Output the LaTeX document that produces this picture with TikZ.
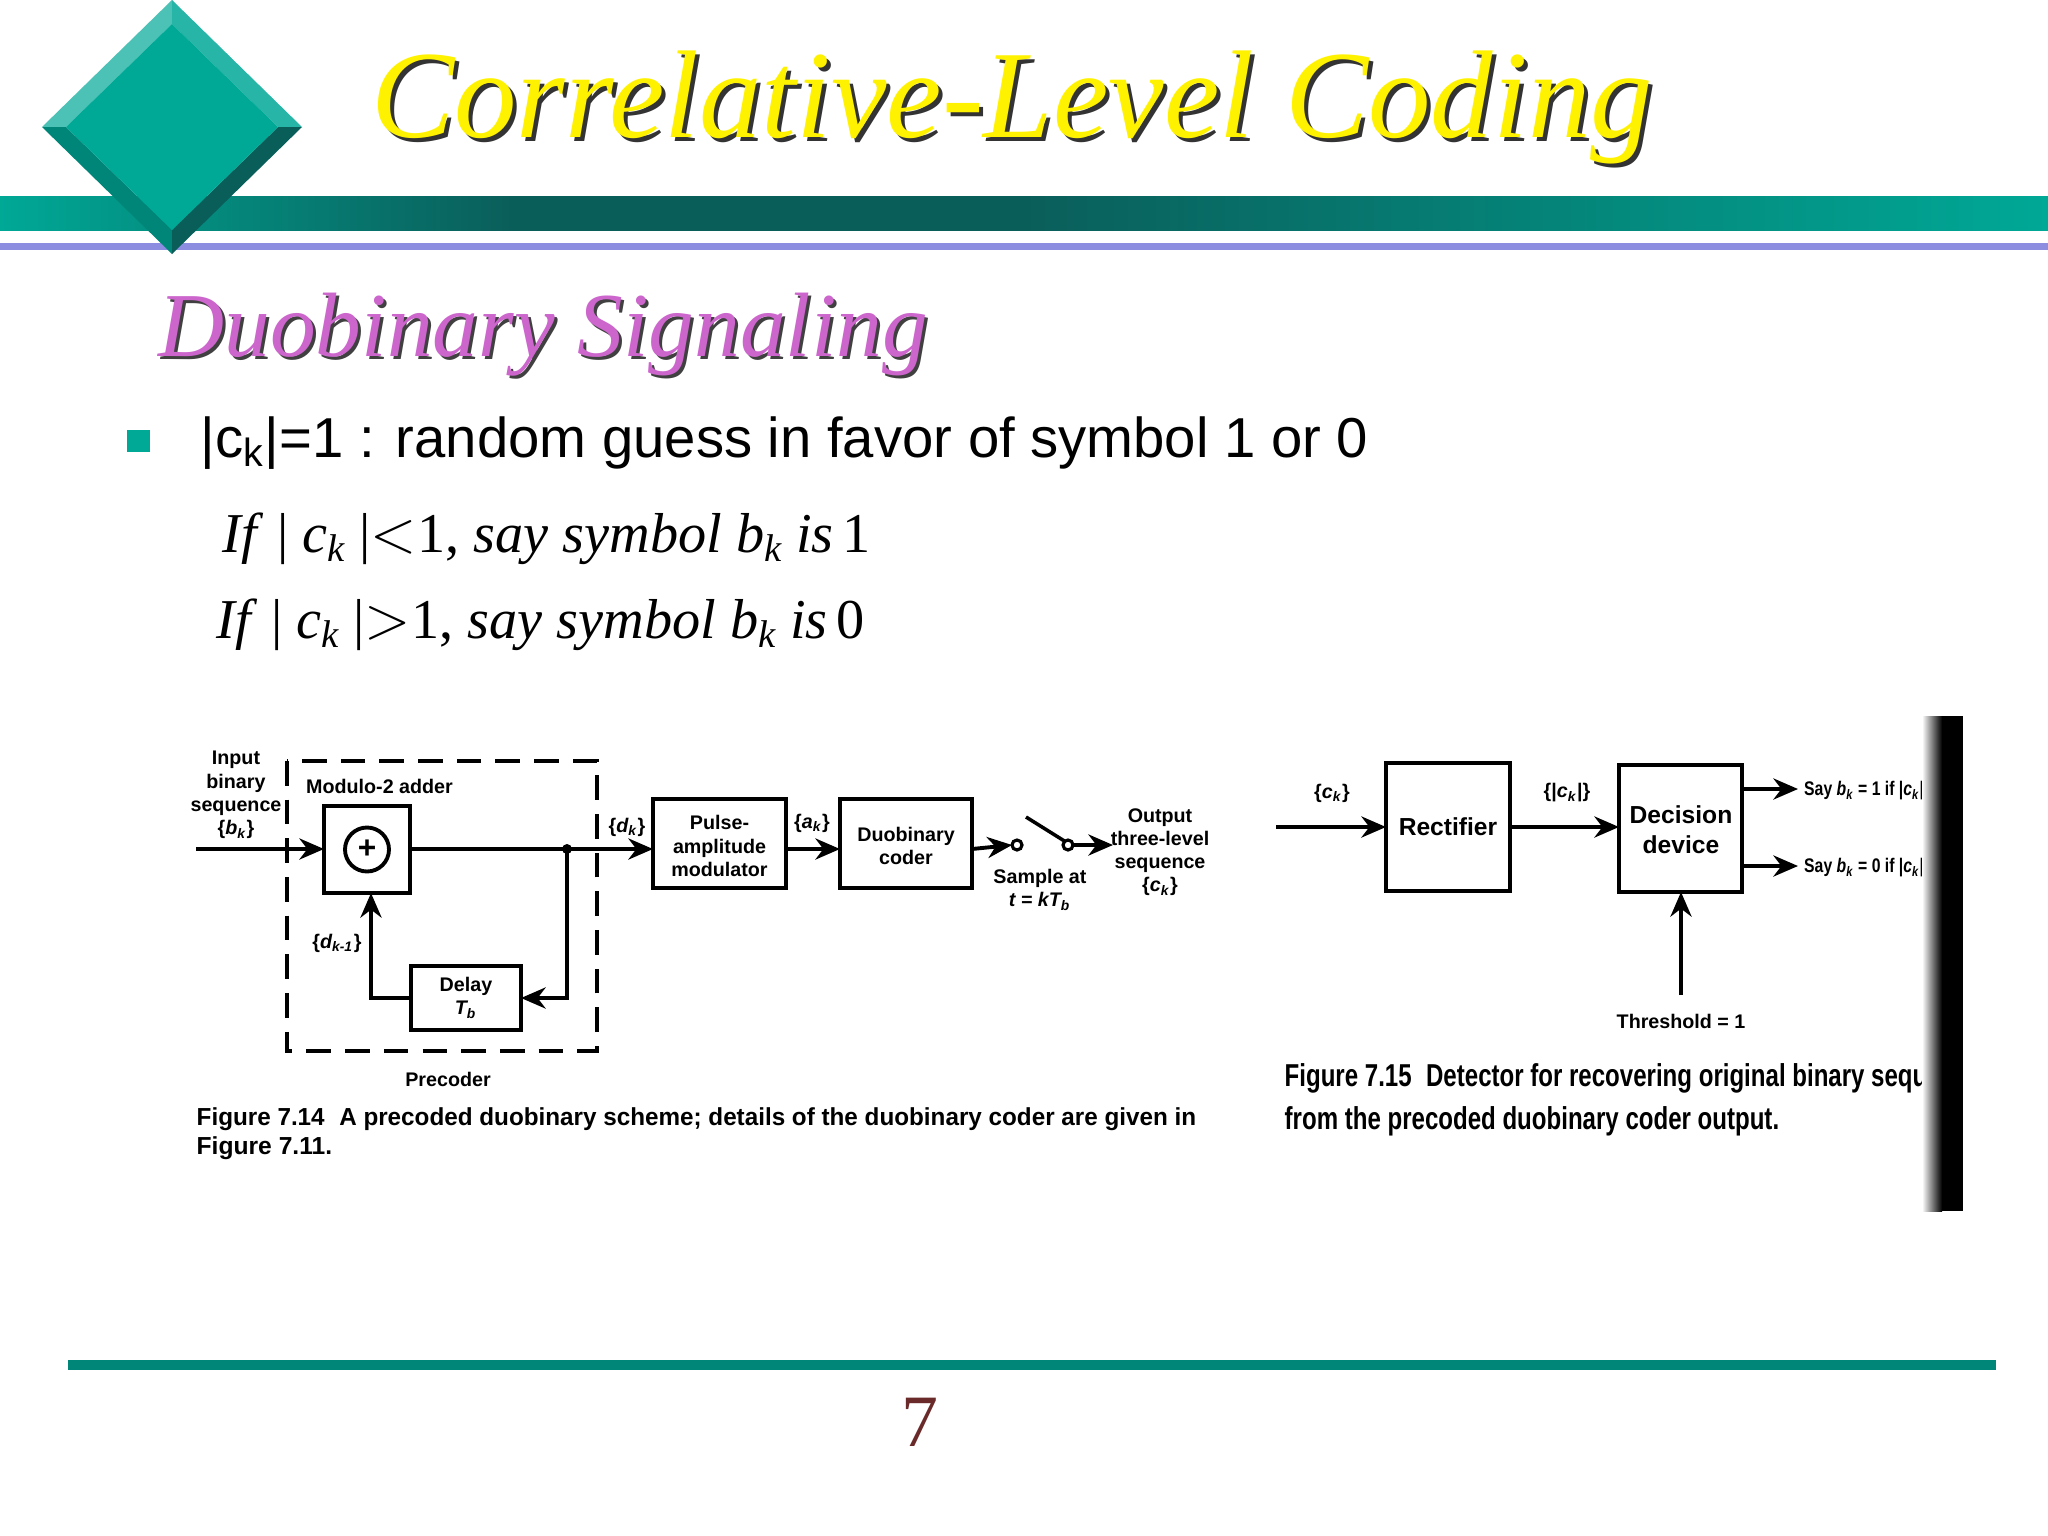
\documentclass[tikz,border=0pt]{standalone}
\usepackage{fontspec}
\setmainfont{Liberation Serif}
\newfontfamily\arial{Liberation Sans}
\usetikzlibrary{arrows.meta,shadings}
\definecolor{teal1}{HTML}{00A896}
\definecolor{tealdark}{HTML}{0A5E5A}
\definecolor{lav}{HTML}{8C8CE0}
\definecolor{pnum}{HTML}{6B2A2A}
\definecolor{violet1}{HTML}{CC66CC}
\newcommand{\sk}{\raisebox{-0.35ex}{\fontsize{11}{11}\selectfont\textit{k}}}
\tikzset{
 lbl/.style={font=\arial\bfseries\fontsize{5.6}{6.6}\selectfont,align=center,inner sep=1pt},
 capt/.style={font=\arial\bfseries\fontsize{7}{9}\selectfont,align=left,inner sep=0pt,anchor=west},
 arr/.style={line width=1.1pt,-{Stealth[length=7pt,width=6pt]}},
}
\begin{document}
\begin{tikzpicture}[x=0.01cm,y=-0.01cm]
\useasboundingbox (0,0) rectangle (2048,1536);
\fill[white] (0,0) rectangle (2048,1536);
% header bar
\shade[left color=teal1,right color=tealdark,middle color=tealdark] (0,196) rectangle (1024,230);
\shade[left color=tealdark,right color=teal1] (1024,196) rectangle (2048,230);
\fill[lav] (0,243) rectangle (2048,250);
% diamond
\fill[teal1!70!white] (42,127) -- (172,0) -- (172,24) -- (66,127) -- cycle;
\fill[teal1!85!white] (172,0) -- (302,127) -- (278,127) -- (172,24) -- cycle;
\fill[teal1!80!black] (42,127) -- (66,127) -- (172,230) -- (172,254) -- cycle;
\fill[tealdark] (302,127) -- (172,254) -- (172,230) -- (278,127) -- cycle;
\fill[teal1] (66,127) -- (172,24) -- (278,127) -- (172,230) -- cycle;
% title
\node[font=\fontsize{35.5}{40}\selectfont\itshape,text=black!80] at (1016,111) {Correlative-Level Coding};
\node[font=\fontsize{35.5}{40}\selectfont\itshape,text=yellow] (title) at (1012,107) {Correlative-Level Coding};
\node[font=\fontsize{26}{30}\selectfont\itshape,text=black!75,anchor=base west] at (149,359) {Duobinary Signaling};
\node[font=\fontsize{26}{30}\selectfont\itshape,text=violet1,anchor=base west] (sub) at (146,356) {Duobinary Signaling};
% bullet
\fill[teal1] (127,430) rectangle (150,452);
\node[font=\arial\fontsize{16}{18}\selectfont,anchor=base west,inner sep=0pt] (b1) at (200,457) {|c\textsubscript{k}|=1 : random guess in favor of symbol 1 or 0};
\node[font=\fontsize{16}{20}\selectfont,anchor=base west,inner sep=0pt] (e1) at (222,552) {\textit{If} | \textit{c}\sk\ |$<$1, \textit{say symbol b}\sk\ \textit{is}\,1};
\node[font=\fontsize{16}{20}\selectfont,anchor=base west,inner sep=0pt] (e2) at (216,638) {\textit{If} | \textit{c}\sk\ |$>$1, \textit{say symbol b}\sk\ \textit{is}\,0};
% ---------- Figure 7.14
\draw[line width=1pt,dash pattern=on 7pt off 4pt] (287,761) rectangle (597,1051);
\node[lbl] (inp) at (236,795) {Input\\binary\\sequence\\\{\textit{b\textsubscript{k}}\}};
\node[lbl,anchor=west] (modl) at (302,786) {Modulo-2 adder};
\draw[line width=1.1pt] (324,806) rectangle (410,893);
\coordinate (addc) at (367,849.5);
\draw[line width=1.1pt] (addc) circle[radius=22*0.01cm];
\node[font=\arial\bfseries\fontsize{9}{9}\selectfont] at (addc) {+};
\coordinate (inS) at (196,849);
\coordinate (addW) at (324,849);
\coordinate (addE) at (410,849);
\coordinate (dot) at (567,849);
\draw[arr] (inS) -- (addW);
\draw[line width=1.1pt] (653,799) rectangle (786,888);
\node[lbl] (pam) at (719.5,846) {Pulse-\\amplitude\\modulator};
\coordinate (pamW) at (653,849); \coordinate (pamE) at (786,849);
\draw[arr] (addE) -- (pamW);
\fill (dot) circle[radius=5*0.01cm];
\draw[line width=1.1pt] (411,966) rectangle (521,1030);
\node[lbl] (delay) at (466,998) {Delay\\\textit{T\textsubscript{b}}};
\coordinate (dE) at (521,998); \coordinate (dW) at (411,998);
\draw[arr] (dot) |- (dE);
\draw[arr] (dW) -| (371,893);
\node[lbl] (dk1) at (337,943) {\{\textit{d\textsubscript{k-1}}\}};
\node[lbl] (prec) at (448,1079) {Precoder};
\node[lbl] (dk) at (627,827) {\{\textit{d\textsubscript{k}}\}};
\draw[line width=1.1pt] (840,799) rectangle (972,888);
\node[lbl] (duo) at (906,846) {Duobinary\\coder};
\coordinate (duoW) at (840,849); \coordinate (duoE) at (972,849);
\draw[arr] (pamE) -- (duoW);
\node[lbl] (ak) at (812,823) {\{\textit{a\textsubscript{k}}\}};
\draw[arr] (duoE) -- (1012,845);
\draw[line width=0.9pt] (1017,845) circle[radius=5*0.01cm];
\draw[line width=0.9pt] (1068,845) circle[radius=5*0.01cm];
\draw[line width=1pt] (1026,817) -- (1066,842);
\draw[arr] (1073,845) -- (1113,845);
\node[lbl] (samp) at (1040,890) {Sample at\\\textit{t = kT\textsubscript{b}}};
\node[lbl] (outp) at (1160,852) {Output\\three-level\\sequence\\\{\textit{c\textsubscript{k}}\}};
\node[capt] (cap1) at (196,1119) {\scalebox{0.985}[1]{Figure 7.14\hspace{0.6em}A precoded duobinary scheme; details of the duobinary coder are given in}};
\node[capt] (cap1b) at (196,1148) {Figure 7.11.};
% ---------- Figure 7.15
\node[lbl] (ck) at (1332,793) {\{\textit{c\textsubscript{k}}\}};
\draw[line width=1.1pt] (1386,763) rectangle (1510,891);
\node[lbl,font=\arial\bfseries\fontsize{7}{8.5}\selectfont] (rect) at (1448,827) {Rectifier};
\draw[arr] (1276,827) -- (1386,827);
\node[lbl] (ack) at (1567,793) {\{|\textit{c\textsubscript{k}}|\}};
\draw[line width=1.1pt] (1619,765) rectangle (1742,892);
\node[lbl,font=\arial\bfseries\fontsize{7}{8.5}\selectfont] (dec) at (1681,830) {Decision\\device};
\draw[arr] (1510,827) -- (1619,827);
\draw[arr] (1742,789) -- (1798,789);
\draw[arr] (1742,866) -- (1798,866);
\node[lbl,anchor=west] (o1) at (1800,791) {\scalebox{0.8}[1]{Say \textit{b\textsubscript{k}} = 1 if |\textit{c\textsubscript{k}}|}};
\node[lbl,anchor=west] (o2) at (1800,868) {\scalebox{0.8}[1]{Say \textit{b\textsubscript{k}} = 0 if |\textit{c\textsubscript{k}}|}};
\draw[arr] (1681,995) -- (1681,892);
\node[lbl] (thr) at (1681,1021) {Threshold = 1};
\node[capt] (cap2) at (1284,1078) {\fontsize{9}{10}\selectfont\scalebox{0.76}[1]{Figure 7.15\hspace{0.6em}Detector for recovering original binary seque}};
\node[capt] (cap2b) at (1284,1121) {\fontsize{9}{10}\selectfont\scalebox{0.76}[1]{from the precoded duobinary coder output.}};
% dark edge
\fill[white] (1965,700) rectangle (2048,1230);
\shade[left color=white,right color=black] (1922,716) rectangle (1942,1211);
\fill[black] (1942,716) rectangle (1963,1211);
% footer
\fill[teal1!80!black] (68,1360) rectangle (1996,1370);
\node[font=\fontsize{21}{24}\selectfont,text=pnum] (pg) at (920,1422) {7};
\end{tikzpicture}
\end{document}
